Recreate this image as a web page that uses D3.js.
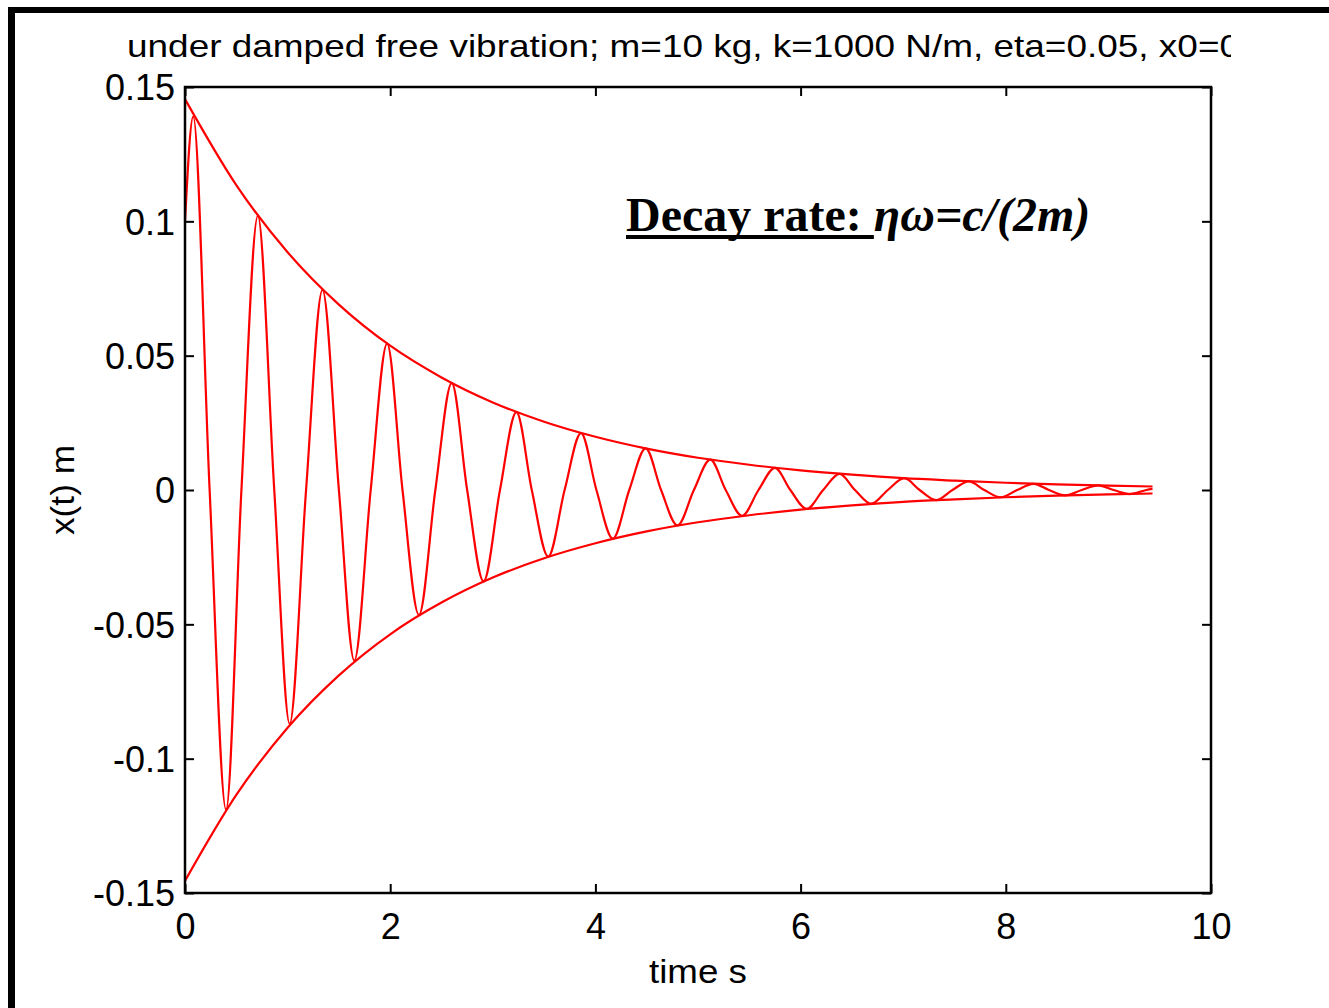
<!DOCTYPE html>
<html>
<head>
<meta charset="utf-8">
<script src="https://cdn.jsdelivr.net/npm/d3@7"></script>
<style>
  body { margin: 0; background: #fff; }
  svg { display: block; }
  text { font-family: "Liberation Sans", Arial, Helvetica, sans-serif; fill: #000; }
</style>
</head>
<body>
<svg width="1329" height="1008"></svg>
<script>
// response x(t): start, then alternating extremes and zero crossings
const respTimes = [0, 0.08, 0.24, 0.40, 0.55, 0.71, 0.87, 1.02, 1.18, 1.34, 1.50, 1.65, 1.81, 1.97, 2.12,
  2.28, 2.44, 2.60, 2.75, 2.91, 3.07, 3.23, 3.38, 3.54, 3.70, 3.86, 4.01, 4.17, 4.33, 4.49, 4.64,
  4.80, 4.96, 5.12, 5.27, 5.43, 5.59, 5.75, 5.90, 6.06, 6.22, 6.38, 6.53, 6.69, 6.85, 7.01, 7.16,
  7.32, 7.48, 7.64, 7.79, 7.95, 8.11, 8.27, 8.42, 8.58, 8.74, 8.90, 9.05, 9.21, 9.37, 9.43];
const respValues = [0.100, 0.139, 0, -0.119, 0, 0.102, 0, -0.087, 0, 0.0745, 0, -0.0635, 0, 0.0545, 0,
  -0.0465, 0, 0.0398, 0, -0.034, 0, 0.029, 0, -0.0248, 0, 0.0212, 0, -0.0181, 0, 0.0155, 0,
  -0.0132, 0, 0.0113, 0, -0.0096, 0, 0.0082, 0, -0.007, 0, 0.006, 0, -0.0051, 0, 0.0044, 0,
  -0.0038, 0, 0.0032, 0, -0.0027, 0, 0.0023, 0, -0.002, 0, 0.0017, 0, -0.0015, 0, 0.0004];

// decay envelope +/-
const envTimes = [0, 0.5, 1, 1.5, 2, 2.5, 3, 3.5, 4, 4.5, 5, 5.5, 6, 6.5, 7, 7.5, 8, 8.5, 9, 9.43];
const envUpper = [0.1455, 0.1135, 0.0885, 0.069, 0.0537, 0.0419, 0.0326, 0.0254, 0.0198, 0.0154,
  0.012, 0.0094, 0.0073, 0.0057, 0.0044, 0.0035, 0.0027, 0.0021, 0.0016, 0.0013];
const envLower = [-0.1455, -0.1135, -0.0885, -0.069, -0.0537, -0.0419, -0.0326, -0.0254, -0.0198, -0.0154,
  -0.012, -0.0094, -0.0073, -0.0057, -0.0044, -0.0035, -0.0027, -0.0021, -0.0016, -0.0013];

const xTicks = [0, 2, 4, 6, 8, 10];
const yTicks = [-0.15, -0.1, -0.05, 0, 0.05, 0.1, 0.15];
const yTickLabels = ["-0.15", "-0.1", "-0.05", "0", "0.05", "0.1", "0.15"];

const titleText = "under damped free vibration; m=10 kg, k=1000 N/m, eta=0.05, x0=0";

const svg = d3.select("svg"),
  margin = { top: 87, right: 118, bottom: 115, left: 185 },
  width = 1329 - margin.left - margin.right,
  height = 1008 - margin.top - margin.bottom;

// page frame (thick black bars on left and top)
svg.append("rect").attr("x", 8).attr("y", 7).attr("width", 7).attr("height", 1001).attr("fill", "#000");
svg.append("rect").attr("x", 8).attr("y", 7).attr("width", 1321).attr("height", 6).attr("fill", "#000");

const x = d3.scaleLinear().domain([0, 10]).range([0, width]);
const y = d3.scaleLinear().domain([-0.15, 0.15]).range([height, 0]);

const g = svg.append("g")
  .attr("transform", "translate(" + margin.left + "," + margin.top + ")");

// title, clipped at the right as in the original
svg.append("clipPath").attr("id", "titleClip")
  .append("rect").attr("x", 0).attr("y", 0).attr("width", 1231).attr("height", 80);
svg.append("text")
  .attr("clip-path", "url(#titleClip)")
  .attr("x", 127).attr("y", 57)
  .attr("textLength", 1113).attr("lengthAdjust", "spacingAndGlyphs")
  .style("font-size", "32px")
  .text(titleText);

const line = d3.line()
  .x(d => x(d[0]))
  .y(d => y(d[1]))
  .curve(d3.curveMonotoneX);

const plot = g.append("g");
plot.append("path")
  .datum(respTimes.map((t, i) => [t, respValues[i]]))
  .attr("d", line)
  .attr("fill", "none").attr("stroke", "#ff0000").attr("stroke-width", 2.2);
plot.append("path")
  .datum(envTimes.map((t, i) => [t, envUpper[i]]))
  .attr("d", line)
  .attr("fill", "none").attr("stroke", "#ff0000").attr("stroke-width", 2.2);
plot.append("path")
  .datum(envTimes.map((t, i) => [t, envLower[i]]))
  .attr("d", line)
  .attr("fill", "none").attr("stroke", "#ff0000").attr("stroke-width", 2.2);

// axes: ticks inside, on all four sides
const tickLen = 9;
const xAxis = d3.axisBottom(x).tickValues(xTicks).tickSize(-tickLen).tickPadding(20).tickFormat(d3.format("d"));
const yAxis = d3.axisLeft(y).tickValues(yTicks).tickSize(-tickLen).tickPadding(10)
  .tickFormat((d, i) => yTickLabels[i]);

const xa = g.append("g").attr("transform", "translate(0," + height + ")").call(xAxis);
const ya = g.append("g").call(yAxis);
const xt = g.append("g").call(d3.axisTop(x).tickValues(xTicks).tickSize(-tickLen).tickFormat(""));
const yr = g.append("g").attr("transform", "translate(" + width + ",0)")
  .call(d3.axisRight(y).tickValues(yTicks).tickSize(-tickLen).tickFormat(""));

[xa, ya, xt, yr].forEach(a => {
  a.select(".domain").remove();
  a.selectAll(".tick line").attr("stroke", "#000").attr("stroke-width", 2);
});
xa.selectAll("text").style("font-size", "36px").attr("fill", "#000");
ya.selectAll("text").style("font-size", "36px").attr("fill", "#000").attr("dy", "0.36em");

g.append("rect")
  .attr("width", width).attr("height", height)
  .attr("fill", "none").attr("stroke", "#000").attr("stroke-width", 2.5);

// axis labels
svg.append("text")
  .attr("x", margin.left + width / 2).attr("y", 983)
  .attr("text-anchor", "middle")
  .attr("textLength", 98).attr("lengthAdjust", "spacingAndGlyphs")
  .style("font-size", "34px")
  .text("time s");
svg.append("text")
  .attr("transform", "translate(74," + (margin.top + height / 2) + ") rotate(-90)")
  .attr("text-anchor", "middle")
  .attr("textLength", 90).attr("lengthAdjust", "spacingAndGlyphs")
  .style("font-size", "34px")
  .text("x(t) m");

// annotation
const note = svg.append("text")
  .attr("x", 626).attr("y", 231)
  .style("font-family", "'Liberation Serif', 'Times New Roman', serif")
  .style("font-size", "48px")
  .style("font-weight", "bold");
const lead = note.append("tspan").text("Decay rate: ");
note.append("tspan").style("font-style", "italic").text("ηω=c/(2m)");
const leadW = lead.node().getComputedTextLength();
svg.append("rect")
  .attr("x", 626).attr("y", 235).attr("width", leadW).attr("height", 4).attr("fill", "#000");
</script>
</body>
</html>
